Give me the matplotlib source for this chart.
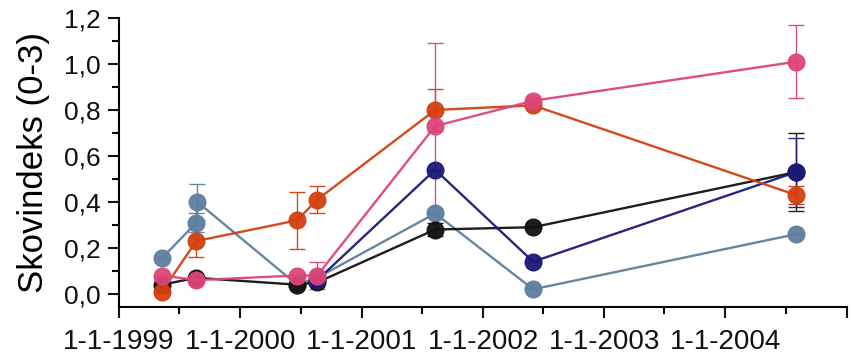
import matplotlib
matplotlib.use("Agg")
import matplotlib.pyplot as plt
import matplotlib.dates as mdates
import numpy as np
import pandas as pd

plt.rcParams['font.family'] = ['Liberation Sans', 'DejaVu Sans']

# Data
black_dates = ["1999-05-10", "1999-08-22", "2000-06-20", "2000-08-20", "2001-08-10", "2002-06-01", "2004-08-01"]
black_vals = [0.04, 0.07, 0.04, 0.05, 0.28, 0.29, 0.53]
black_err = [0, 0, 0, 0, 0.03, 0, 0.17]

navy_dates = ["2000-08-20", "2001-08-10", "2002-06-01", "2004-08-01"]
navy_vals = [0.06, 0.54, 0.14, 0.53]
navy_err = [0, 0, 0, 0.15]

steel_dates = ["1999-05-10", "1999-08-22", "1999-08-25", "2000-06-20", "2000-08-20", "2001-08-10", "2002-06-01", "2004-08-01"]
steel_vals = [0.155, 0.31, 0.40, 0.04, 0.07, 0.35, 0.02, 0.26]
steel_err = [0, 0.04, 0.08, 0, 0, 0, 0, 0]

red_dates = ["1999-05-10", "1999-08-22", "2000-06-20", "2000-08-20", "2001-08-10", "2002-06-01", "2004-08-01"]
red_vals = [0.01, 0.23, 0.32, 0.41, 0.80, 0.82, 0.43]
red_err = [0, 0.07, 0.125, 0.06, 0.09, 0, 0.04]

pink_dates = ["1999-05-10", "1999-08-22", "2000-06-20", "2000-08-20", "2001-08-10", "2002-06-01", "2004-08-01"]
pink_vals = [0.08, 0.06, 0.08, 0.08, 0.73, 0.84, 1.01]
pink_err = [0, 0, 0, 0.06, 0.36, 0, 0.16]

year_ticks = ["1999-01-01", "2000-01-01", "2001-01-01", "2002-01-01", "2003-01-01", "2004-01-01", "2005-01-01"]
year_labels = ["1-1-1999", "1-1-2000", "1-1-2001", "1-1-2002", "1-1-2003", "1-1-2004", ""]
y_ticks = [0.0, 0.2, 0.4, 0.6, 0.8, 1.0, 1.2]
y_labels = ["0,0", "0,2", "0,4", "0,6", "0,8", "1,0", "1,2"]

fig = plt.figure(figsize=(8.51, 3.57), dpi=100)
ax = fig.add_axes([119/851, 1-307/357, (847-119)/851, (307-18)/357])

series = [
    (steel_dates, steel_vals, steel_err, "#5f7f9e"),
    (black_dates, black_vals, black_err, "#111111"),
    (navy_dates, navy_vals, navy_err, "#1c1a78"),
    (red_dates, red_vals, red_err, "#d33f10"),
    (pink_dates, pink_vals, pink_err, "#dd4578"),
]
for d, v, e, c in series:
    x = pd.to_datetime(d)
    ax.errorbar(x, v, yerr=e, color=c, marker='o', markersize=12, linewidth=1.7,
                elinewidth=1.0, capsize=6, capthick=1.0, ecolor=c, alpha=0.95)

ax.set_xlim(pd.Timestamp("1999-01-01"), pd.Timestamp("2005-01-01"))
ax.set_ylim(-0.057, 1.2)
ax.set_xticks(pd.to_datetime(year_ticks))
ax.set_xticklabels(year_labels)
ax.xaxis.set_minor_locator(mdates.MonthLocator(bymonth=7))
ax.set_yticks(y_ticks)
ax.set_yticklabels(y_labels)
ax.set_yticks(np.arange(0.1, 1.2, 0.2), minor=True)

for s in ['top', 'right']:
    ax.spines[s].set_visible(False)
for s in ['left', 'bottom']:
    ax.spines[s].set_linewidth(1.5)
ax.tick_params(axis='both', which='major', direction='out', length=8, width=1.5, colors='#111111')
ax.tick_params(axis='both', which='minor', direction='out', length=5, width=1.5)
ax.tick_params(axis='x', labelsize=20, pad=8)
ax.tick_params(axis='y', labelsize=19, pad=5)
ax.set_ylabel("Skovindeks (0-3)", fontsize=25, labelpad=10)

fig.savefig("out.png", dpi=100)
